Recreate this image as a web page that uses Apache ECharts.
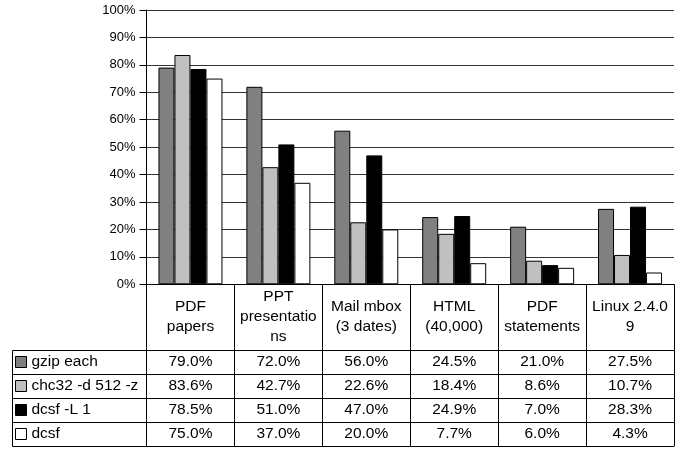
<!DOCTYPE html>
<html>
<head>
<meta charset="utf-8">
<script src="https://cdn.jsdelivr.net/npm/echarts@6/dist/echarts.min.js"></script>
<style>
html,body{margin:0;padding:0;background:#fff;}
#main{width:675px;height:449px;}
</style>
</head>
<body>
<div id="main"></div>
<script>
var categories = ['PDF\npapers', 'PPT\npresentatio\nns', 'Mail mbox\n(3 dates)', 'HTML\n(40,000)', 'PDF\nstatements', 'Linux 2.4.0\n9'];
var seriesNames = ['gzip each', 'chc32 -d 512 -z', 'dcsf -L 1', 'dcsf'];
var gzipEach = [79.0, 72.0, 56.0, 24.5, 21.0, 27.5];
var chc32 = [83.6, 42.7, 22.6, 18.4, 8.6, 10.7];
var dcsfL1 = [78.5, 51.0, 47.0, 24.9, 7.0, 28.3];
var dcsf = [75.0, 37.0, 20.0, 7.7, 6.0, 4.3];
var yTicks = ['0%', '10%', '20%', '30%', '40%', '50%', '60%', '70%', '80%', '90%', '100%'];

var seriesValues = [gzipEach, chc32, dcsfL1, dcsf];
var colors = ['#808080', '#c0c0c0', '#000000', '#ffffff'];
var FONT = '"Liberation Sans", Arial, Helvetica, sans-serif';

var gridTop = 10, gridBottomY = 284.3, W = 675, H = 449;
var headerH = 65.7, rowH = 24;
var tableLeft = 12.5, plotLeft = 146.5;

var xAxes = [{
  type: 'category', position: 'bottom', data: categories,
  axisLine: {show: true, lineStyle: {color: '#000', width: 1}},
  axisTick: {show: true, length: headerH, lineStyle: {color: '#000', width: 1}},
  axisLabel: {interval: 0, color: '#000', fontSize: 15.5, fontFamily: FONT, lineHeight: 20, verticalAlign: 'middle', margin: headerH / 2}
}];
seriesValues.forEach(function (vals, i) {
  xAxes.push({
    type: 'category', position: 'bottom', offset: headerH + i * rowH,
    data: vals.map(function (v) { return v.toFixed(1) + '%'; }),
    axisLine: {show: true, lineStyle: {color: '#000', width: 1}},
    axisTick: {show: true, length: rowH, lineStyle: {color: '#000', width: 1}},
    axisLabel: {interval: 0, color: '#000', fontSize: 15.5, fontFamily: FONT, verticalAlign: 'middle', margin: rowH / 2}
  });
});
xAxes.push({
  type: 'category', position: 'bottom', offset: headerH + 4 * rowH, data: categories,
  axisLine: {show: true, lineStyle: {color: '#000', width: 1}},
  axisTick: {show: false}, axisLabel: {show: false}
});

var graphics = [];
for (var r = 0; r <= 4; r++) {
  var y = Math.round(gridBottomY + headerH + r * rowH) + 0.5;
  graphics.push({type: 'line', shape: {x1: tableLeft, y1: y, x2: plotLeft, y2: y}, style: {stroke: '#000', lineWidth: 1}});
}
graphics.push({type: 'line', shape: {x1: tableLeft, y1: Math.round(gridBottomY + headerH) + 0.5, x2: tableLeft, y2: Math.round(gridBottomY + headerH + 4 * rowH) + 0.5}, style: {stroke: '#000', lineWidth: 1}});

var chart = echarts.init(document.getElementById('main'), null, {renderer: 'canvas'});
chart.setOption({
  backgroundColor: '#fff',
  animation: false,
  textStyle: {fontFamily: FONT},
  grid: {left: plotLeft, right: W - 674, top: gridTop, bottom: H - gridBottomY, containLabel: false},
  legend: {
    orient: 'vertical', left: 15, top: gridBottomY + headerH + 4, padding: 0,
    itemWidth: 11, itemHeight: 11, itemGap: 8,
    icon: 'rect',
    itemStyle: {borderColor: '#000', borderWidth: 1},
    textStyle: {fontSize: 15.5, color: '#000', fontFamily: FONT, lineHeight: 16},
    data: seriesNames
  },
  xAxis: xAxes,
  yAxis: {
    type: 'value', min: 0, max: 100, interval: 10,
    axisLine: {show: true, lineStyle: {color: '#000', width: 1}},
    axisTick: {show: true, length: 7, lineStyle: {color: '#000'}},
    axisLabel: {color: '#000', fontSize: 13, fontFamily: FONT, margin: 11,
      formatter: function (v) { return yTicks[Math.round(v / 10)]; }},
    splitLine: {show: true, lineStyle: {color: '#333', width: 1.2}}
  },
  graphic: graphics,
  series: seriesNames.map(function (name, i) {
    return {
      name: name, type: 'bar', xAxisIndex: 0, data: seriesValues[i],
      barWidth: 16, barGap: '0%',
      itemStyle: {color: colors[i], borderColor: '#000', borderWidth: 1}
    };
  })
});
</script>
</body>
</html>
